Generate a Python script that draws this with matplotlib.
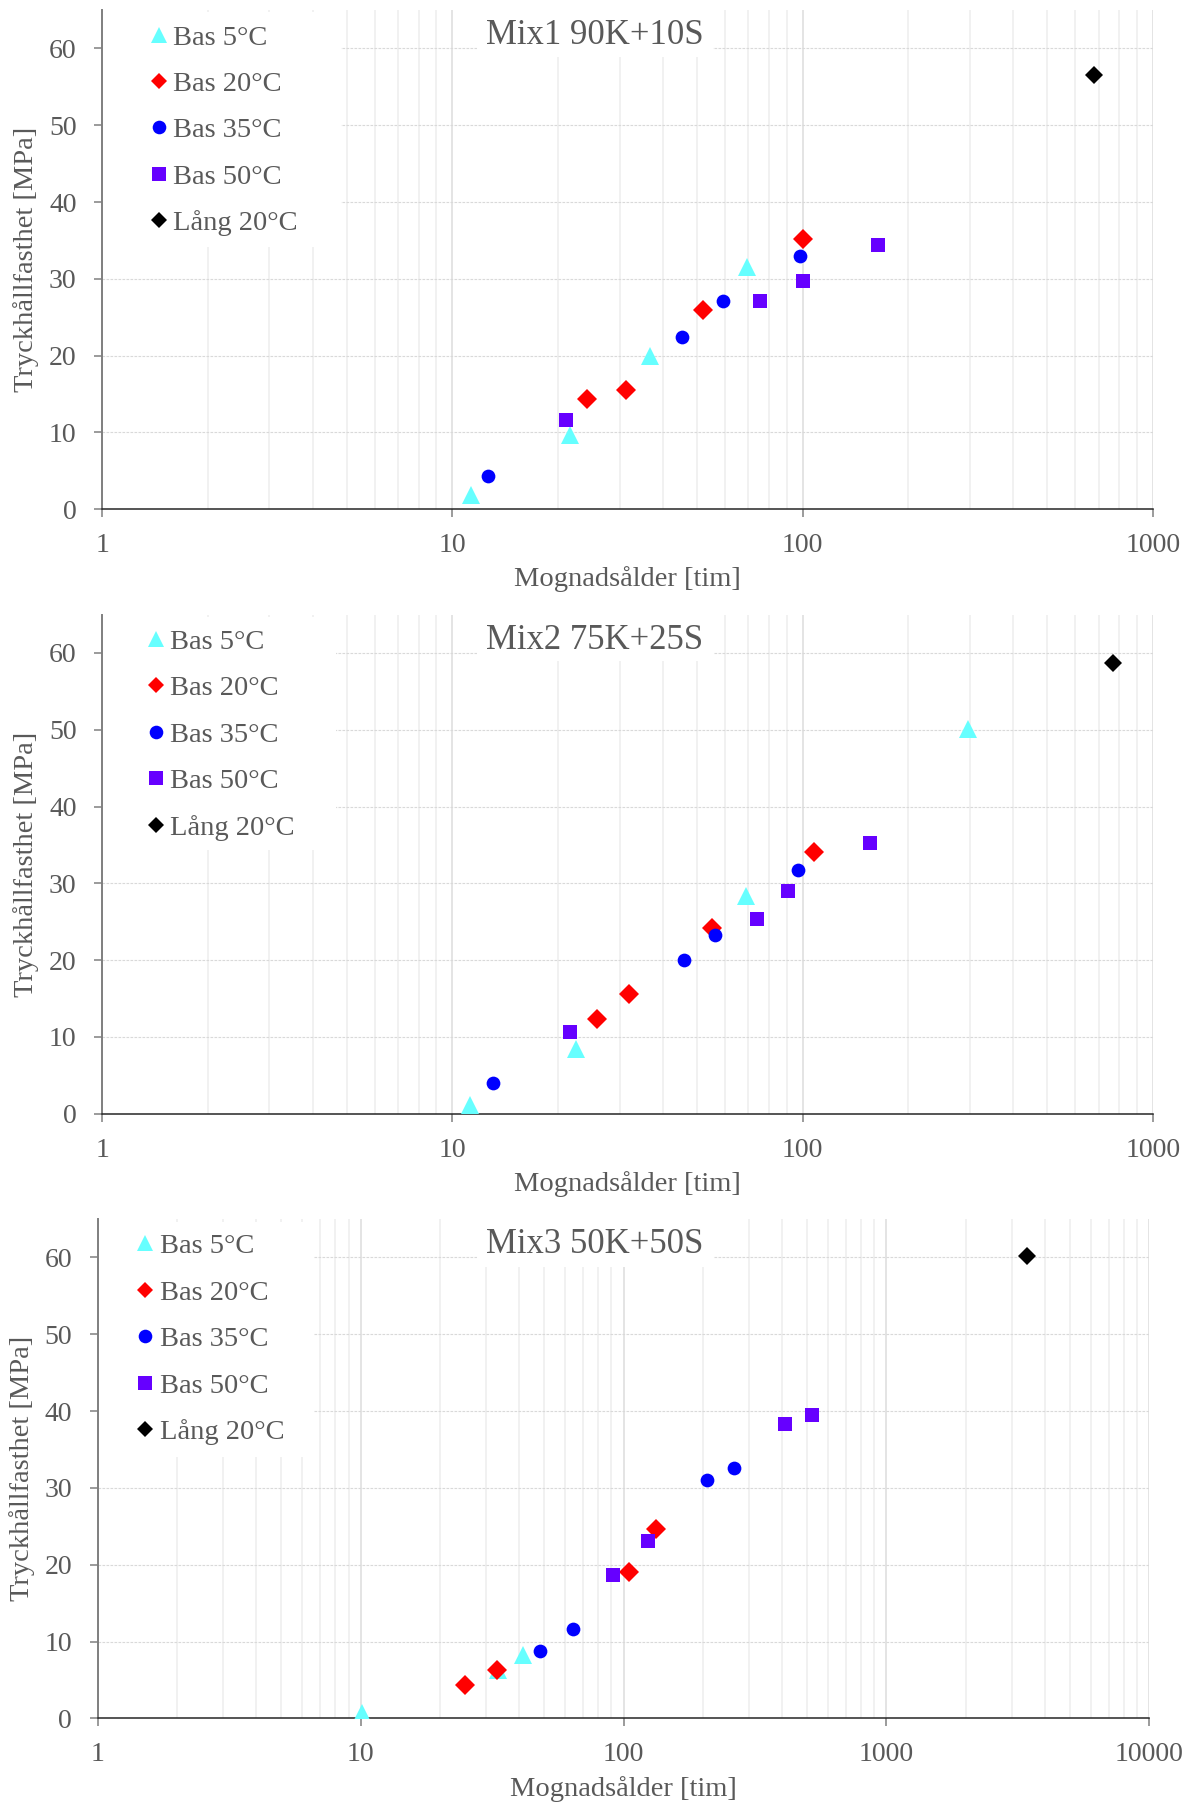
import matplotlib
matplotlib.use('Agg')
import matplotlib.pyplot as plt
from matplotlib.lines import Line2D
from matplotlib.patches import Rectangle

plt.rcParams['font.family'] = ['Liberation Serif', 'DejaVu Serif']

W, H = 1193, 1802  # output size in pixels (dpi 100)

series_labels = ['Bas 5°C', 'Bas 20°C', 'Bas 35°C', 'Bas 50°C', 'Lång 20°C']
series_colors = ['#66FFFF', '#FF0000', '#0000FF', '#6600FF', '#000000']
series_markers = ['^', 'D', 'o', 's', 'D']
titles = ['Mix1 90K+10S', 'Mix2 75K+25S', 'Mix3 50K+50S']
x_ticks_short = [1, 10, 100, 1000]
x_ticks_long = [1, 10, 100, 1000, 10000]
y_ticks = [0, 10, 20, 30, 40, 50, 60]

# maturity age [h] and compressive strength [MPa]
mix1_bas5_t = [11.3, 21.6, 36.6, 69.2]
mix1_bas5_mpa = [1.8, 9.7, 19.9, 31.6]
mix1_bas20_t = [24.2, 31.4, 51.8, 100.4]
mix1_bas20_mpa = [14.4, 15.5, 25.9, 35.2]
mix1_bas35_t = [12.6, 45.1, 59.3, 98.2]
mix1_bas35_mpa = [4.3, 22.4, 27.1, 33.0]
mix1_bas50_t = [21.1, 75.5, 100.0, 163.8]
mix1_bas50_mpa = [11.6, 27.1, 29.7, 34.4]
mix1_lang20_t = [678]
mix1_lang20_mpa = [56.6]

mix2_bas5_t = [11.2, 22.5, 69.0, 296]
mix2_bas5_mpa = [1.1, 8.4, 28.4, 50.1]
mix2_bas20_t = [25.9, 31.9, 55.2, 108.0]
mix2_bas20_mpa = [12.3, 15.6, 24.2, 34.1]
mix2_bas35_t = [13.05, 45.9, 56.2, 96.7]
mix2_bas35_mpa = [4.0, 20.0, 23.3, 31.7]
mix2_bas50_t = [21.7, 73.9, 90.6, 155.7]
mix2_bas50_mpa = [10.6, 25.4, 29.0, 35.3]
mix2_lang20_t = [768]
mix2_lang20_mpa = [58.7]

mix3_bas5_t = [10.1, 33.4, 41.6]
mix3_bas5_mpa = [0.7, 6.3, 8.2]
mix3_bas20_t = [24.9, 33.1, 105.0, 133.4]
mix3_bas20_mpa = [4.4, 6.3, 19.1, 24.7]
mix3_bas35_t = [48.0, 64.5, 207.8, 263.9]
mix3_bas35_mpa = [8.8, 11.7, 31.0, 32.6]
mix3_bas50_t = [91.1, 123.8, 411, 522]
mix3_bas50_mpa = [18.7, 23.1, 38.3, 39.5]
mix3_lang20_t = [3413]
mix3_lang20_mpa = [60.2]

mix_series = [
    [(mix1_bas5_t, mix1_bas5_mpa), (mix1_bas20_t, mix1_bas20_mpa), (mix1_bas35_t, mix1_bas35_mpa),
     (mix1_bas50_t, mix1_bas50_mpa), (mix1_lang20_t, mix1_lang20_mpa)],
    [(mix2_bas5_t, mix2_bas5_mpa), (mix2_bas20_t, mix2_bas20_mpa), (mix2_bas35_t, mix2_bas35_mpa),
     (mix2_bas50_t, mix2_bas50_mpa), (mix2_lang20_t, mix2_lang20_mpa)],
    [(mix3_bas5_t, mix3_bas5_mpa), (mix3_bas20_t, mix3_bas20_mpa), (mix3_bas35_t, mix3_bas35_mpa),
     (mix3_bas50_t, mix3_bas50_mpa), (mix3_lang20_t, mix3_lang20_mpa)],
]

# marker sizes in the plot and in the legend
plot_ms = [13.6, 9.9, 9.9, 10.3, 9.6]
legend_ms = [11.8, 8.2, 9.8, 9.8, 8.2]

# axes box in figure pixels: left, top, right, bottom
boxes = [(102.3, 10.1, 1152.8, 509.2),
         (102.3, 614.6, 1152.8, 1113.8),
         (97.7, 1219.0, 1149.3, 1718.4)]
x_max = [1000, 1000, 10000]
# white patches behind legend and title (figure pixels)
legend_patch = [(11.7, 340.6, 246.7), (617, 336, 850), (1222, 314, 1457)]
title_patch = [(476.7, 713, 56.7), (476.5, 713.6, 661), (477, 713.6, 1267)]
title_base = [44.3, 649, 1253.3]
legend_left = [149.1, 146.1, 135.3]

text_col = '#595959'

fig = plt.figure(figsize=(W / 100, H / 100), dpi=100)

for i in range(3):
    l, t, r, b = boxes[i]
    ax = fig.add_axes([l / W, 1 - b / H, (r - l) / W, (b - t) / H])

    def fx(x):
        return (x - l) / (r - l)

    def fy(y):
        return (b - y) / (b - t)

    for k, (tt, vv) in enumerate(mix_series[i]):
        ax.plot(tt, vv, ls='none', marker=series_markers[k], ms=plot_ms[k], mew=0,
                color=series_colors[k], zorder=3)

    ax.set_xscale('log')
    ax.set_xlim(1, x_max[i])
    ax.set_ylim(0, 65)
    xt = x_ticks_long if x_max[i] == 10000 else x_ticks_short
    ax.set_xticks(xt)
    ax.set_xticklabels([str(v) for v in xt])
    ax.set_yticks(y_ticks)

    ax.set_axisbelow(True)
    ax.grid(True, which='major', axis='x', color='#e2e2e2', lw=1.3)
    ax.grid(True, which='minor', axis='x', color='#f0f0f0', lw=1.3)
    ax.grid(True, which='major', axis='y', color='#d9d9d9', lw=0.8, linestyle=(0, (2.4, 1.2)))

    ax.spines['top'].set_visible(False)
    ax.spines['right'].set_visible(False)
    ax.spines['left'].set_color('#7f7f7f')
    ax.spines['left'].set_linewidth(1.4)
    ax.spines['bottom'].set_color('#262626')
    ax.spines['bottom'].set_linewidth(1.1)

    ax.tick_params(which='major', length=6, width=1.1, color='#808080',
                   labelcolor=text_col, labelsize=20)
    ax.tick_params(axis='y', pad=12.5)
    ax.tick_params(axis='x', pad=11.3)
    ax.tick_params(which='minor', length=0)

    ax.set_xlabel('Mognadsålder [tim]', fontsize=20.5, color=text_col, labelpad=6)
    ax.set_ylabel('Tryckhållfasthet [MPa]', fontsize=20.5, color=text_col, labelpad=7)

    # white boxes that hide the grid under legend and title
    lt, lr, lb = legend_patch[i]
    ax.add_patch(Rectangle((0, fy(lb)), fx(lr), fy(lt) - fy(lb), transform=ax.transAxes,
                           facecolor='white', edgecolor='none', zorder=1))
    tl, tr, tb = title_patch[i]
    ax.add_patch(Rectangle((fx(tl), fy(tb)), fx(tr) - fx(tl), 1 - fy(tb), transform=ax.transAxes,
                           facecolor='white', edgecolor='none', zorder=1))

    ax.text(fx(486), fy(title_base[i]), titles[i], transform=ax.transAxes, ha='left',
            va='baseline', fontsize=25, color=text_col, zorder=2)

    handles = [Line2D([], [], ls='none', marker=series_markers[k], ms=legend_ms[k], mew=0,
                      color=series_colors[k]) for k in range(5)]
    ax.legend(handles, series_labels, loc='upper left',
              bbox_to_anchor=(fx(legend_left[i]), fy(t + 14.5)), frameon=False, fontsize=20.5,
              handlelength=0.7, handletextpad=0.15, borderpad=0, borderaxespad=0,
              labelspacing=0.72, labelcolor=text_col)

fig.savefig('out.png', dpi=100)
